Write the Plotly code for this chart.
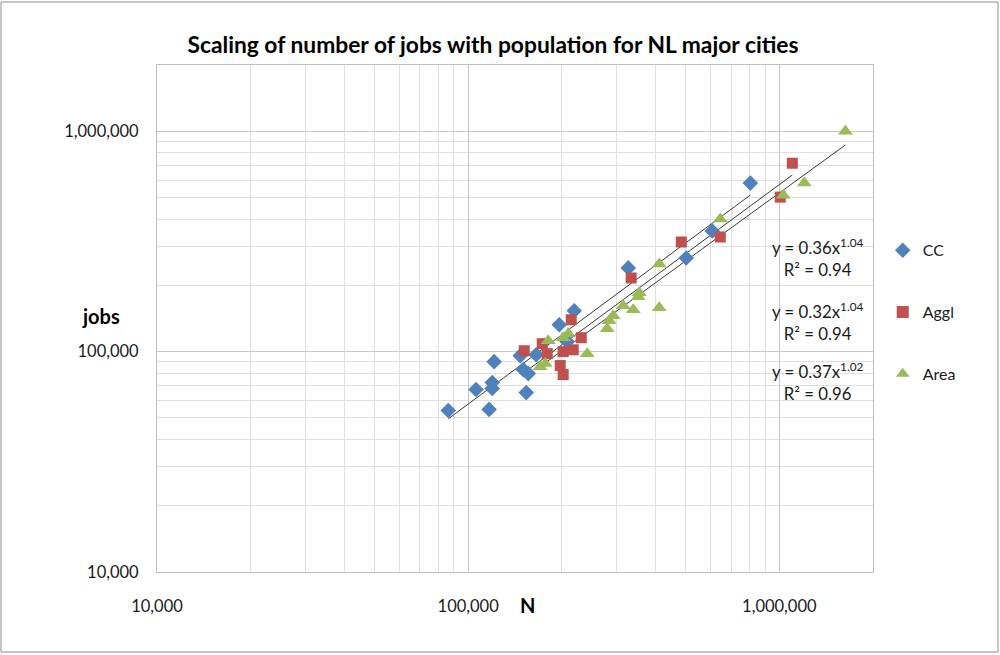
import numpy as np
import plotly.graph_objects as go

# ---- data ----
cc_pop = [86300, 106000, 116800, 119500, 119500, 121200, 147000, 165400, 150300,
          156000, 153700, 196200, 219200, 208100, 327000, 502000, 609000, 807000]
cc_jobs = [54100, 67300, 54700, 72400, 68000, 90100, 95900, 96900, 82900,
           79500, 65200, 132500, 153300, 111000, 240000, 266000, 353000, 582000]

aggl_pop = [151400, 173000, 179500, 202000, 217600, 230900, 197600, 202000, 214400,
            334000, 484000, 646000, 1007000, 1101000]
aggl_jobs = [101000, 108700, 97900, 100000, 102000, 115700, 86500, 78700, 139600,
             216000, 314600, 331500, 502600, 716500]

area_pop = [170400, 176800, 180800, 202000, 209700, 241300, 279900, 284000, 292500,
            315100, 339300, 352000, 354600, 411300, 411300, 646000, 1030000, 1203000, 1630000]
area_jobs = [85500, 88300, 112100, 115700, 120600, 97900, 127000, 138100, 145500,
             161500, 154900, 177400, 184900, 158200, 250100, 399700, 513200, 582000, 1000000]

series_names = ["CC", "Aggl", "Area"]
series_colors = ["#4F81BD", "#C0504D", "#9BBB59"]
series_symbols = ["diamond", "square", "triangle-up"]
trend_labels = ["y = 0.36x<sup>1.04</sup><br>R² = 0.94",
                "y = 0.32x<sup>1.04</sup><br>R² = 0.94",
                "y = 0.37x<sup>1.02</sup><br>R² = 0.96"]

tick_vals = [10000, 100000, 1000000]
tick_text = ["10,000", "100,000", "1,000,000"]

FONT = "Lato, 'Open Sans', sans-serif"

fig = go.Figure()

datasets = [(cc_pop, cc_jobs), (aggl_pop, aggl_jobs), (area_pop, area_jobs)]

# trend lines (power fit in log space)
for (xs, ys) in datasets:
    lx, ly = np.log10(xs), np.log10(ys)
    b, a = np.polyfit(lx, ly, 1)
    xx = np.geomspace(min(xs), max(xs), 40)
    yy = 10 ** (a + b * np.log10(xx))
    fig.add_trace(go.Scatter(x=xx, y=yy, mode="lines", showlegend=False,
                             hoverinfo="skip",
                             line=dict(color="#3a3a3a", width=1)))

sizes = [12, 11, 13]
for i, (xs, ys) in enumerate(datasets):
    fig.add_trace(go.Scatter(x=xs, y=ys, mode="markers", name=series_names[i],
                             legendgroup=series_names[i],
                             marker=dict(symbol=series_symbols[i], size=sizes[i],
                                         color=series_colors[i], line=dict(width=0))))

axis_common = dict(
    type="log",
    range=[4, np.log10(2e6)],
    tickvals=tick_vals, ticktext=tick_text,
    showgrid=True, gridcolor="#C8C8C8", gridwidth=1,
    minor=dict(showgrid=True, dtick="D1", gridcolor="#E0E0E0", gridwidth=1),
    showline=True, linecolor="#BFBFBF", linewidth=1, mirror=True,
    zeroline=False, ticks="",
    tickfont=dict(family=FONT, size=16.5, color="#1a1a1a"),
)

fig.update_layout(
    width=1000, height=655,
    paper_bgcolor="white", plot_bgcolor="white",
    margin=dict(l=157, r=127, t=65, b=83),
    font=dict(family=FONT, color="#1a1a1a"),
    title=dict(text="<b>Scaling of number of jobs with population for NL major cities</b>",
               x=(493 - 157) / 716, xref="paper", xanchor="center",
               y=1 - 45 / 655, yanchor="middle",
               font=dict(family=FONT, size=22.8, color="#000000")),
    xaxis=dict(**axis_common, ticklabelstandoff=19),
    yaxis=dict(**axis_common, ticklabelstandoff=14),
    legend=dict(x=1.0136, xanchor="left", y=0.668, yanchor="top",
                tracegroupgap=38, bgcolor="rgba(0,0,0,0)",
                itemsizing="constant",
                font=dict(family=FONT, size=16, color="#1a1a1a"),
                itemwidth=30),
    showlegend=True,
)

# axis titles
fig.add_annotation(text="<b>N</b>", xref="paper", yref="paper",
                   x=(527 - 157) / 716, y=(572 - 605) / 507,
                   xanchor="center", yanchor="middle", showarrow=False,
                   font=dict(family=FONT, size=20, color="#000000"))
fig.add_annotation(text="<b>jobs</b>", xref="paper", yref="paper",
                   x=(101 - 157) / 716, y=(572 - 316) / 507,
                   xanchor="center", yanchor="middle", showarrow=False,
                   font=dict(family=FONT, size=20, color="#000000"))

# trend equations
eq_y = [257, 321, 381]
for lab, py in zip(trend_labels, eq_y):
    fig.add_annotation(text=lab, xref="paper", yref="paper",
                       x=(817 - 157) / 716, y=(572 - py) / 507,
                       xanchor="center", yanchor="middle", showarrow=False,
                       align="center",
                       font=dict(family=FONT, size=16.8, color="#1a1a1a"))

# outer chart border
fig.add_shape(type="rect", xref="paper", yref="paper",
              x0=(1 - 157) / 716, x1=(998 - 157) / 716,
              y0=(572 - 652) / 507, y1=(572 - 2) / 507,
              line=dict(color="#8C8C8C", width=1), fillcolor="rgba(0,0,0,0)",
              layer="below")

fig.write_html("out.html",
               config={"displayModeBar": False},
               post_script="document.body.style.margin='0';document.body.style.overflow='hidden';")
